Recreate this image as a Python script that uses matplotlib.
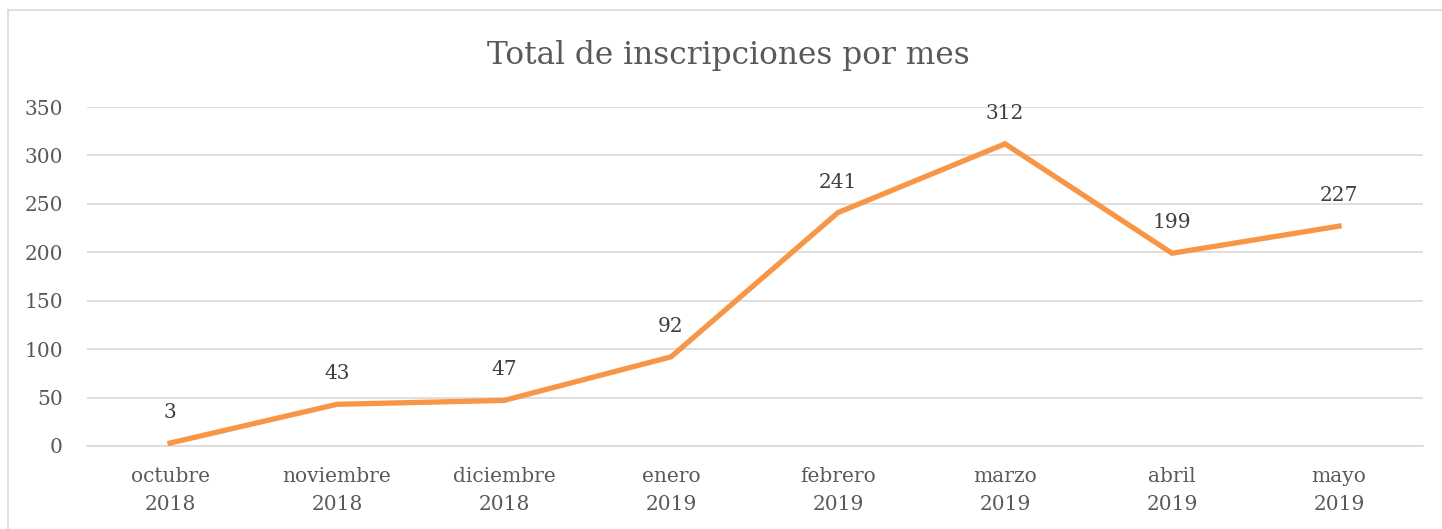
import matplotlib.pyplot as plt
from matplotlib.lines import Line2D

meses = ["octubre\n2018", "noviembre\n2018", "diciembre\n2018", "enero\n2019",
         "febrero\n2019", "marzo\n2019", "abril\n2019", "mayo\n2019"]
inscripciones = [3, 43, 47, 92, 241, 312, 199, 227]
y_ticks = [0, 50, 100, 150, 200, 250, 300, 350]

plt.rcParams['font.family'] = ['DejaVu Serif']
txt_color = "#595959"

fig = plt.figure(figsize=(14.42, 5.29), dpi=100)
ax = fig.add_axes([0.060, 0.157, 0.9265, 0.6407])

x = list(range(len(meses)))
ax.plot(x, inscripciones, color="#F79646", lw=3.8, solid_joinstyle="miter", zorder=3)
for xi, v in zip(x, inscripciones):
    ax.annotate(str(v), (xi, v), xytext=(0, 22), textcoords="offset points",
                ha="center", va="center", fontsize=14.5, color="#404040")

ax.set_xlim(-0.5, len(meses) - 0.5)
ax.set_ylim(0, 350)
ax.set_yticks(y_ticks)
ax.set_xticks(x)
ax.set_xticklabels(meses, fontsize=14.5, color=txt_color, linespacing=1.6)
ax.tick_params(axis="y", labelsize=14.5, labelcolor=txt_color, length=0, pad=17)
ax.tick_params(axis="x", length=0, pad=15)
ax.grid(axis="y", color="#d9d9d9", lw=1.2)
ax.set_axisbelow(True)
for s in ["top", "right", "left"]:
    ax.spines[s].set_visible(False)
ax.spines["bottom"].set_color("#d9d9d9")
ax.spines["bottom"].set_linewidth(1.2)

fig.text(0.505, 0.895, "Total de inscripciones por mes", ha="center", va="center",
         fontsize=22.5, color=txt_color)

# chart border
fig.add_artist(Line2D([8 / 1442, 8 / 1442], [0, 1 - 10 / 529], color="#d9d9d9", lw=1.2))
fig.add_artist(Line2D([8 / 1442, 1], [1 - 10 / 529, 1 - 10 / 529], color="#d9d9d9", lw=1.2))

fig.savefig("out.png", dpi=100)
